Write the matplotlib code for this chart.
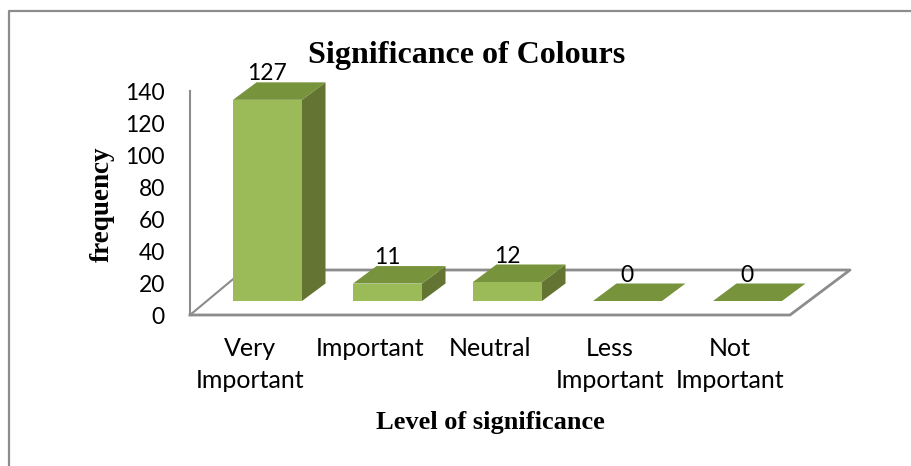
import numpy as np
import matplotlib as mpl
mpl.use('Agg')
from matplotlib import pyplot as plt
from matplotlib.lines import Line2D
from matplotlib.patches import Polygon

mpl.rcParams['font.family'] = ['Lato', 'DejaVu Sans']

categories = ['Very\nImportant', 'Important', 'Neutral', 'Less\nImportant', 'Not\nImportant']
frequency = [127, 11, 12, 0, 0]
y_ticks = [0, 20, 40, 60, 80, 100, 120, 140]

FRONT = '#9bbb59'
TOP = '#77933c'
SIDE = '#647533'
AXIS = '#8c8c8c'

W, H = 912, 466
fig = plt.figure(figsize=(W / 100, H / 100), dpi=100)
ax = fig.add_axes([190 / W, 1 - 315 / H, 600 / W, 224 / H])
ax.set_xlim(0, 5)
ax.set_ylim(0, 140)
ax.patch.set_alpha(0)

# card border, left and top only show in the picture
fig.add_artist(Line2D([9 / W, 9 / W, 1], [0, 1 - 11 / H, 1 - 11 / H], color=AXIS, lw=1.6))

# fake 3d: offsets in data units
dx = 23.5 / 120
dy = 17.5 / 1.6
base = 8.75
bar_w = 69 / 120
floor_dx = 60 / 120
floor_dy = 45 / 1.6
squash = 0.99

ax.plot([0, 5, 5 + floor_dx, 0.45], [0, 0, floor_dy, floor_dy], color=AXIS, lw=2, clip_on=False, zorder=1)
ax.plot([0, 0.45], [0, floor_dy], color=AXIS, lw=1.5, clip_on=False, zorder=1)

for i, v in enumerate(frequency):
    x0 = i + 43 / 120
    x1 = x0 + bar_w
    y0 = base
    y1 = base + v * squash
    ax.add_patch(Polygon([(x1, y0), (x1 + dx, y0 + dy), (x1 + dx, y1 + dy), (x1, y1)], fc=SIDE, ec='none', zorder=3, clip_on=False))
    ax.add_patch(Polygon([(x0, y1), (x1, y1), (x1 + dx, y1 + dy), (x0 + dx, y1 + dy)], fc=TOP, ec='none', zorder=3, clip_on=False))
    ax.add_patch(Polygon([(x0, y0), (x1, y0), (x1, y1), (x0, y1)], fc=FRONT, ec='none', zorder=4, clip_on=False))
    ax.text((x0 + x1 + dx) / 2 - 0.1, y1 + dy + 1.2, str(v), ha='center', va='baseline', fontsize=16.5, color='black', zorder=5, clip_on=False)

for s in ['top', 'right', 'bottom']:
    ax.spines[s].set_visible(False)
ax.spines['left'].set_color(AXIS)
ax.spines['left'].set_linewidth(1.5)

ax.set_yticks(y_ticks)
ax.set_xticks(np.arange(5) + 0.5)
ax.set_xticklabels(categories, fontsize=18, linespacing=1.45)
ax.tick_params(axis='both', length=0)
ax.tick_params(axis='x', pad=16, labelsize=18)
ax.tick_params(axis='y', pad=18, labelsize=16.5)

fig.text(467 / W, 1 - 55 / H, 'Significance of Colours', family='Liberation Serif', weight='bold',
         fontsize=23, ha='center', va='center')
fig.text(490 / W, 1 - 423 / H, 'Level of significance', family='Liberation Serif', weight='bold',
         fontsize=19, ha='center', va='center')
fig.text(102 / W, 1 - 204 / H, 'frequency', family='Liberation Serif', weight='bold',
         fontsize=19.5, ha='center', va='center', rotation=90)

fig.savefig('out.png', dpi=100)
